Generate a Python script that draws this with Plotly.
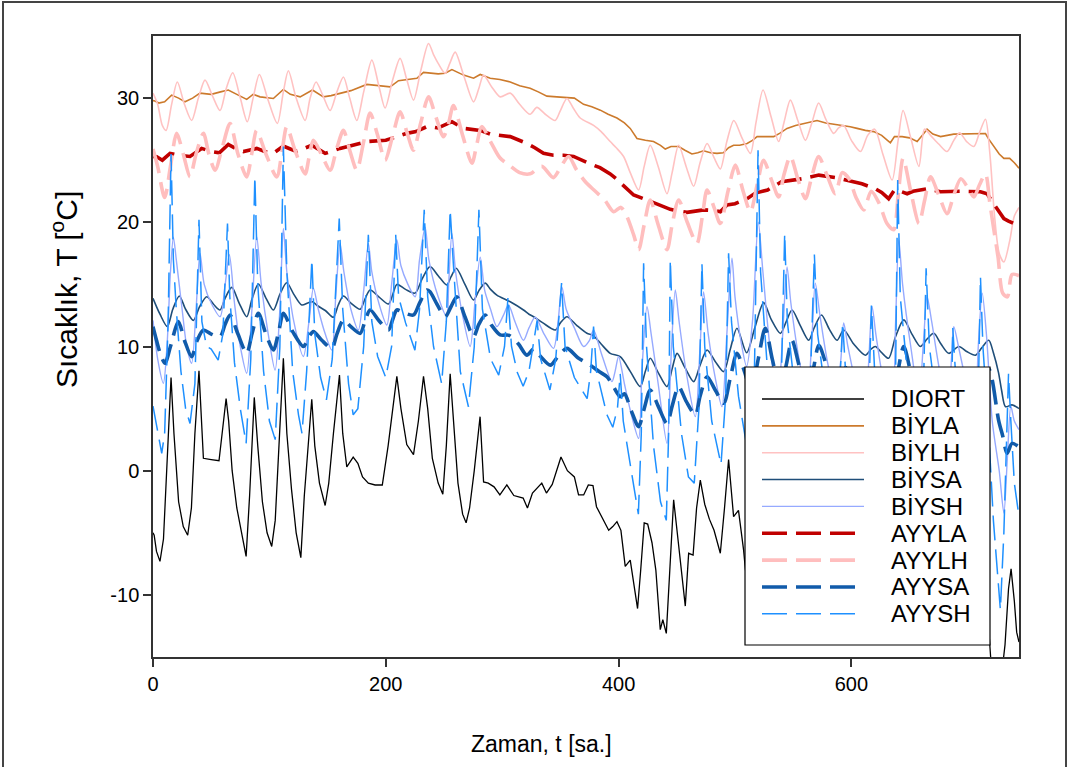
import plotly.graph_objects as go

# ---------------- data (t in hours, value in deg C) ----------------
DIORT = [(0,-5.0),(1,-5.2),(3,-6.5),(6,-7.3),(9,-5.5),(12,0),(15.5,7.5),(18,3),(22,-2.5),(26,-4.5),(29.8,-5.2),
         (33,-3),(36,3),(39.5,8.05),(42,3),(43.3,1.0),(50,0.9),(56.7,0.8),(60,3.5),(62.8,5.8),(65,4),(68,0),(72,-3),
         (76,-5),(80,-6.9),(83,-2),(87,5.9),(90,2),(94,-2.5),(98,-5),(102,-6.1),(105,-4),(108,2),(112,9.05),(115,3),
         (119,-1.5),(123,-5),(127,-7.0),(130,-2),(133,2),(136.4,5.75),(139,2),(143,-1),(147.9,-2.8),(151,-1),(155,3),
         (160.2,7.7),(163,3),(166.5,0.3),(172,1.1),(176,0.6),(180,-0.5),(185,-1.0),(190.8,-1.15),(197,-1.15),(202,2),
         (206,5),(209.5,7.6),(213,5),(218,2.1),(223.8,1.3),(228,4),(232.4,7.6),(236,5),(240,1),(245,-1),(249,-1.9),
         (252,2),(255.3,7.8),(258,4),(262,-1),(266,-3.5),(269,-4.2),(272,-3),(276,0),(281,4.35),(284,-0.9),(288,-1.0),
         (293,-1.3),(298,-1.95),(304,-1.15),(310,-2),(318,-2.2),(321.7,-3.0),(326,-1.8),(334,-1.0),(338,-1.8),
         (343,-1.1),(350.5,1.1),(356,0),(362,-0.5),(365.6,-1.95),(370,-1.95),(374,-1.15),(378,-1.2),(381,-2.9),
         (386,-3.8),(391.5,-4.8),(395,-4.5),(398.6,-4.1),(402,-4.8),(405.7,-7.7),(410,-7.2),(413,-9),(416.3,-11.1),
         (419,-8),(422,-4.2),(425,-4.3),(428.7,-5.8),(432,-8),(435.8,-12.8),(438,-12),(441,-13.1),(444,-8),
         (447.3,-2.35),(451,-5.5),(457.3,-10.9),(460.2,-6.65),(464,-6.8),(467,-3),(470.2,-0.75),(474,-2.7),(478,-3.9),
         (482,-4.8),(487.4,-6.65),(491,-3),(494.5,0.9),(498.8,-3.7),(503,-3.2),(507.4,-6.4),(509,-8.0),(514,-9),
         (519,-3),(525,-6),(531,-10),(538,-4),(543,-1),(549,-6),(556,-9),(562,-3),(567,-1),(573,-6),(580,-8),
         (586,-4),(591,-2),(597,-6),(604,-9),(610,-3),(615,-1),(621,-6),(628,-8),(634,-3),(639,0),(645,-5),(652,-9),
         (658,-4),(663,-1),(669,-6),(676,-9),(682,-5),(687,-2),(693,-7),(700,-10),(706,-6),(711,-4),(716,-10),
         (718,-13),(720,-15.5),(724,-17),(729,-16.5),(732,-14),(735,-9.5),(737.2,-7.9),(740,-10.5),(742,-13.0),
         (744,-13.8)]

BIYLA = [(0,29.8),(1.7,29.76),(5,29.6),(10,29.7),(16,30.24),(22,30.0),(27.5,29.7),(34,30.0),(40.4,30.4),(50,30.3),
         (58,30.5),(64.7,30.65),(72,30.3),(80.5,29.9),(86,30.3),(92,30.1),(103.4,29.97),(112,30.7),(118,30.3),
         (126.4,30.1),(137,30.65),(146.4,30.1),(153,30.2),(160.7,30.4),(170,30.6),(183.7,31.1),(194,31.0),
         (203.7,30.9),(210.9,31.4),(220,31.5),(226.7,31.6),(232.4,32.07),(238,32.04),(245,31.95),(251,32.0),
         (256.8,32.3),(266.8,31.85),(275.4,31.6),(281.1,31.9),(289.7,31.6),(298,31.5),(306.9,31.3),(315,31.0),
         (324,30.8),(331,30.5),(338.4,30.16),(347,30.1),(355.6,30.03),(362,30.0),(369.9,29.5),(377,29.3),
         (384.3,29.03),(391,28.7),(398.6,28.4),(405,28.0),(410,27.56),(415.8,26.75),(423,26.6),(430,26.5),(436,26.2),
         (440.1,25.9),(445,26.1),(451.6,26.1),(457,25.8),(463,25.5),(468,25.6),(473,25.76),(479,25.6),(484.5,25.55),
         (490,25.6),(494.5,26.0),(498.8,26.2),(504,26.2),(510.4,26.35),(515,26.6),(519,26.9),(526,26.9),(533.3,26.9),
         (539,27.2),(544.7,27.56),(552,27.8),(561.9,28.0),(570.5,28.2),(578,28.0),(585,27.9),(593.4,27.8),(599,27.7),
         (604.9,27.56),(612,27.4),(619.2,27.3),(626,27.0),(631,26.6),(633.5,26.4),(637,26.9),(643.6,26.9),(650,26.8),
         (656.5,26.5),(661,27.0),(665,27.5),(670,27.1),(676.6,26.9),(688,27.1),(700,27.1),(711,27.1),(715.2,27.15),
         (718,26.7),(722.4,26.1),(727,25.5),(731,25.15),(736,25.15),(740,24.8),(744,24.35)]

BIYLH = [(0,30.4),(4,29.5),(8,27.8),(11.2,27.4),(16,29.5),(20.9,31.3),(27,29.5),(33.2,28.2),(39,30.0),(44.7,31.45),
         (51,30.2),(57.6,29.0),(63,30.8),(68.5,32.04),(75,30.0),(81,28.1),(86,30.0),(91.4,31.9),(99,29.8),
         (106.8,27.96),(112,30.5),(116.3,32.2),(123,30),(130.7,28.2),(135,30),(140.1,31.3),(146,30.2),(152.2,29.0),
         (158,30.5),(163.6,31.7),(169,30),(175.1,28.2),(181,30.5),(188,33.06),(194,31),(199.4,29.2),(206,31.5),
         (212.3,33.2),(218,31.5),(223.8,29.84),(230,32.2),(236.7,34.4),(241,33.5),(245,32.8),(251,32.0),(255,32.8),
         (259.6,33.7),(267,31.8),(275.4,29.7),(280,30.8),(284,31.85),(291,30.9),(298.3,30.1),(306.9,30.4),(315,29.5),
         (324,28.7),(329.8,29.25),(337,28.7),(345.5,28.2),(350,29),(355.6,29.97),(361,29.2),(367,28.4),(378.5,27.8),
         (385,27.3),(392.8,26.5),(398,26),(404.3,25.3),(410,24),(417.2,22.6),(422,24.5),(427.2,26.2),(434,24.5),
         (441.6,22.3),(446,24),(451.6,26.2),(458,24.5),(464.5,22.9),(470,24.8),(476,26.35),(482,25.2),(487.4,24.3),
         (493,26.5),(499,28.2),(506,26.8),(513.3,25.55),(518,28),(524.1,30.65),(531,28.5),(537.5,26.5),(542,28),
         (547.6,29.84),(554,28.2),(560.5,26.6),(566,28),(571.9,29.6),(578,28.3),(584.8,27.16),(589,27.6),(593.4,27.8),
         (600,26.6),(607.8,25.7),(614,27),(620,27.5),(627,25.5),(635,23.4),(640,26.5),(644.4,29.0),(651,26.8),
         (658,24.5),(662.8,27.5),(668,27.0),(675,26.3),(682.2,25.7),(688,26.6),(693,27.2),(699,26.5),(705.2,26.1),
         (710,27.2),(715.2,28.3),(719,25.5),(723,20.5),(727,17.5),(731,16.8),(736,18.5),(740,20.5),(744,21.2)]

BIYSA = [(0,13.88),(6,12.6),(12.3,11.6),(17,13),(22.6,14.07),(28,13.0),(34.7,12.1),(40,13.2),(46.2,14.0),(52,13.4),
         (57.6,12.94),(62,13.9),(67.7,14.76),(74,13.5),(80.5,12.4),(85,13.8),(90.5,15.03),(97,13.9),(103.4,12.94),
         (109,14.2),(114.9,15.13),(121,14.2),(127.8,13.34),(133,13.5),(137,13.6),(141,13.3),(148,12.9),(155,12.35),
         (159,13.3),(163.6,14.07),(170,13.5),(178,13.0),(182,13.8),(186.5,14.55),(194,14.0),(202.3,13.42),(206,14.2),
         (209.5,15.0),(217,14.6),(225.2,14.3),(231,15.4),(238,16.43),(245,15.7),(252.4,14.95),(256,15.6),(260.5,16.3),
         (268,15),(275.4,13.74),(280,14.5),(285.4,15.1),(290,14.6),(295.4,14.14),(306.9,13.6),(318.3,12.94),
         (323,12.6),(327,12.4),(335,11.9),(345.6,11.33),(350,11.9),(355.6,12.4),(364,11.7),(372.8,11.06),(378,10.9),
         (385,10.2),(392.8,9.45),(401.4,9.18),(410,8.0),(418.6,6.77),(423,8),(427.2,9.05),(434,7.9),(441.6,6.77),
         (446,8.2),(450.2,9.45),(457,8.3),(464.5,7.17),(470,8.5),(476,9.72),(483,8.8),(490.3,7.98),(496,9.8),
         (501.7,11.47),(510,9.5),(517,11.5),(524.6,13.53),(531,12.2),(539,11.06),(544,12),(549,12.94),(556,11.7),
         (563.3,10.5),(568,11.5),(574.3,12.54),(581,11.4),(587.7,10.5),(593.4,11.33),(602,10.2),(612,9.3),(617,9.8),
         (620.6,10.0),(626,9.5),(632,9.05),(638,10.8),(645,12.14),(652,11),(659.3,10.0),(665,10.6),(670.8,11.06),
         (677,10.2),(683.7,9.45),(692.3,10.0),(699,9.6),(706.6,9.3),(712,9.9),(718,10.5),(722,9.5),(726.4,7.9),
         (729,6.5),(732.4,5.15),(738,5.3),(744,5.0)]

BIYSH = [(0,12.1),(4,9),(8.9,7.04),(12,10),(15,16),(17.5,18.8),(20,17),(25,13),(29,10),(33.2,8.65),(37,13),
         (40.4,17.5),(44,15),(50,13.5),(57.6,12.4),(62,15),(65.6,17.4),(70,13.5),(75,10),(80.5,7.85),(85,13),
         (89.1,18.84),(93,15),(99,11),(104.9,8.1),(109,13),(112,19.5),(115,16),(121,12),(129.2,9.2),(134,12),
         (137.8,14.7),(142,13),(148,11),(153.6,9.72),(157,14),(160.7,18.3),(164,16),(170,13),(176.4,11.33),(181,14.5),
         (185,18.3),(188,16),(194,13.5),(200.9,11.73),(205,15),(209.5,18.6),(213,16.5),(219,15),(225.2,14.0),(229,17),
         (233.8,19.6),(237,17),(245,14),(252.4,12.4),(254,15),(256.8,19.1),(260,16),(266,12.5),(272.5,10.0),(277,14),
         (281.1,17.2),(285,14.5),(290,13),(295.4,11.6),(301,12.5),(305.4,13.34),(311,12),(318.3,10.5),(323,11.5),
         (328.4,12.35),(336,11),(344.1,9.85),(348,12),(351.3,14.8),(355,13),(362,11.5),(369.9,10.0),(375,10.5),
         (378.5,11.33),(385,9.5),(394.3,7.17),(397,8),(400,9.2),(405,7),(411,4.5),(417.2,2.6),(420,8),(424.4,13.2),
         (428,11),(434,7),(441.6,2.2),(445,9),(448.7,14.55),(452,12),(458,8),(465.9,4.35),(470,10),(473,14.4),
         (477,11),(483,7.5),(488.8,5.16),(493,11),(497.4,17.1),(500,14),(505,10.5),(510,8.4),(515,12),(520,20),
         (524,16),(530,10),(537,6),(541,11),(544.7,16.4),(548,13.5),(555,9),(562,6),(566,10.5),(569,15.1),(573,12.5),
         (580,8.5),(587,6),(591,9),(593.4,11.9),(597,10),(604,7),(612,5),(615,9),(617.8,13.2),(621,11),(628,7),
         (635,5),(638,12),(640.7,18.6),(644,15),(651,10),(658,6),(662,10.5),(665,14.0),(669,12),(676,8),(683,5.5),
         (686,9),(688,11.6),(692,10),(699,7),(706,5),(709,10),(712.4,14.3),(716,11),(721,4),(727,0),(731,-3.4),
         (734,1),(737,5.2),(740,4),(744,3.3)]

AYYLA = [(0,25.3),(3.2,25.28),(8,25.0),(14.6,25.55),(22,25.4),(31.8,25.3),(41.8,25.95),(50,25.7),(57,25.6),
         (64.7,26.27),(70,26.0),(77.6,25.7),(89.1,25.95),(96,25.7),(103.4,25.55),(112,26.14),(118,25.9),(123.5,25.7),
         (136.4,26.2),(142,25.9),(147.9,25.55),(160.7,25.95),(170,26.2),(183.7,26.5),(200,26.6),(210,26.9),
         (218,27.16),(226,27.3),(235.2,27.7),(238,27.7),(245,27.6),(256.8,28.1),(266.8,27.56),(281.1,27.4),
         (289.7,27.1),(306.9,26.9),(315,26.6),(321.2,26.35),(328,26),(335.5,25.55),(344,25.4),(352.7,25.4),
         (361.3,25.3),(368,25.0),(375.7,24.7),(384,24.4),(392.8,23.9),(398,23.5),(402.9,23.1),(408,22.6),
         (412.9,22.2),(421.5,21.9),(433,21.5),(444.4,21.04),(452,20.9),(458.8,20.8),(466,20.9),(473,21.0),(482,20.95),
         (487.4,20.85),(493.1,21.4),(500,21.5),(510.4,21.9),(517.5,22.35),(528,22.6),(540,23.26),(557.5,23.5),
         (572,23.8),(586.3,23.6),(600,23.3),(609,23.1),(620.6,22.7),(626,22.4),(632,21.9),(637,22.6),(642,22.5),
         (647.9,22.3),(653,22.5),(659.3,22.6),(665,22.7),(676.6,22.46),(693.7,22.5),(710.9,22.46),(716.6,22.3),
         (720,21.8),(723.8,21.25),(727,20.8),(731,20.3),(735,20.1),(739.6,19.9),(742,19.9),(744,19.6)]

AYYLH = [(0,25.9),(4,24.5),(10,22.0),(15,24.5),(20.3,27.16),(26,25.5),(31.8,23.66),(37,25.5),(43.3,27.16),(48,25.5),
         (53.3,24.2),(60,26.2),(66.2,27.96),(73,25.5),(80.5,23.66),(85,25.6),(89,27.4),(97,25.5),(106.3,23.66),
         (111,25.8),(114.9,27.7),(122,25.8),(130.7,23.9),(134,25.2),(137.8,26.6),(145,25.4),(152.2,24.2),(158,26),
         (163.6,27.4),(169,25.8),(175.1,24.2),(181,26.5),(186.5,28.8),(193,27),(199.4,25.0),(206,27),(212.3,28.9),
         (218,27.3),(223.8,25.8),(230,28),(236.7,30.1),(243,28.5),(249.5,26.9),(254,28),(258.1,29.4),(266,27),
         (274,24.75),(278,26.2),(282.5,27.7),(290,26.5),(298,25.2),(306,24.6),(315,24.0),(324,23.9),(334,24.5),
         (344,23.6),(350,24.4),(357,25.3),(364,24.2),(372,23.2),(380,22.5),(388,21.8),(395.7,20.85),(402,21.2),
         (407,20.5),(412.9,19.0),(417.2,17.8),(422,19.8),(427.2,21.8),(434,19.8),(441.6,17.8),(446,19.8),(451.6,21.8),
         (459,20),(467.3,18.3),(472,20.5),(476,22.6),(482,21.2),(487.4,19.9),(494,22.5),(500.3,24.6),(507,22.5),
         (513.3,20.85),(519,23),(524.6,25.0),(531,23.5),(537.5,22.05),(542,23.8),(547.6,25.3),(554,23.5),(560.5,21.9),
         (566,23.7),(571.9,25.3),(579,23.8),(586.3,22.3),(592,24),(598,23.5),(604,22),(610.6,21.0),(617,22.5),
         (624,21.5),(630.6,19.9),(636.4,19.4),(640,22),(644.4,25.15),(651,22.5),(658,19.9),(663,21.8),(668,23.66),
         (675,22.2),(682.2,20.7),(688,22.2),(694,23.5),(700,22.8),(705.2,22.05),(710,23.0),(715.2,23.9),(719,21.5),
         (722.4,19.4),(726,17.2),(730,14.3),(734,14.0),(738,15.8),(744,15.7)]

AYYSA = [(0,11.6),(3,10.5),(6,9.5),(10.3,8.65),(15,10),(21.8,12.0),(27,10.5),(33.2,9.18),(38,10.5),(43.3,11.33),
         (50,11),(57.6,10.8),(62,11.8),(66.2,12.54),(73,11),(80.5,9.45),(85,11),(90.5,12.68),(97,11),(103.4,9.72),
         (108,11.2),(112,12.68),(120,11.2),(129.2,10.0),(134,10.8),(137.8,11.2),(145,10.5),(153.6,9.85),(158,11),
         (163.6,12.14),(170,11.6),(178,11.06),(182,12),(186.5,12.94),(194,12.1),(202.3,11.33),(206,12.2),(209.5,12.94),
         (216,12.7),(223.8,12.54),(229,13.5),(235.2,14.55),(238,14.4),(244,13.4),(251,12.4),(256,13.2),(261,14.0),
         (268,12.4),(275.4,10.8),(280,11.8),(285.4,12.54),(291,11.7),(298.3,10.93),(306,10.9),(314,10.2),(321.2,9.3),
         (327,9.8),(333,9.2),(341.3,8.5),(348,9.2),(355.6,9.85),(365,9.1),(375.7,8.5),(383,8.0),(390,7.57),(396,6.7),
         (401.4,5.96),(405,6.2),(411,4.8),(417.2,3.55),(422,5),(427.2,6.5),(434,5.2),(441.6,3.8),(446,5.2),
         (451.6,6.77),(458,5.6),(465.9,4.5),(470,6),(476,7.57),(483,6.5),(490.3,5.43),(496,7.5),(501.7,9.45),
         (507,8.3),(514,6.5),(520,9),(526,11.47),(532,9),(539,6.5),(544,8.5),(549,10.5),(555,8.5),(563,6),(568,8.5),
         (572,10.1),(580,8),(588,5.5),(592,7),(595,8.3),(603,6.5),(612,5),(617,7),(620,8.2),(627,6),(634,4.5),(640,8),
         (645,10.0),(652,7.5),(659,5.5),(665,7),(670,8.3),(677,6.5),(684,5),(689,6.5),(692,7.7),(699,6),(706,5),
         (712,7),(718,8.2),(721,7.3),(726.4,4.1),(730,2.8),(733.8,1.4),(738,2.2),(744,1.9)]

AYYSH = [(0,5.2),(4,3.0),(7.5,1.4),(10,3),(13,12),(15.5,25.5),(17.5,17),(20,13),(24,8),(28,5),(31.8,3.8),(36,7),
         (39.5,20.2),(42,12),(46,10),(50,9.8),(56,8.9),(60,11),(64,19.9),(66,14),(70,8.7),(75,5),(80,2.2),(84,9),
         (87.5,23.7),(90,15),(95,8),(100,4),(105,2.5),(109,10),(112,26.1),(115,16),(120,8),(125,4.5),(128,3.0),
         (132,8),(136.5,17),(139,11),(144,7.5),(149,5.7),(154,9),(160,20.3),(163,13),(168,7),(172,4.5),(176,5),
         (181,10),(185,19),(188,12),(193,9.2),(200,7.5),(205,10),(208.5,19),(211,14),(217,11.9),(225,9.7),(229,13),
         (233,21.0),(236,14),(241,10),(248,7.0),(252,12),(255.3,21.0),(258,16.7),(264,8),(271,5.15),(276,10),
         (280,21.0),(283,13),(290,9),(297,7.7),(302,10),(305,14),(308,10),(313,7.9),(318,6.8),(323,8),(330,12.1),
         (333,9),(341,6.5),(346,9),(351,15.1),(354,10),(362,7.5),(373,5.8),(376,8),(378.5,11.6),(381,8),(390,4.5),
         (395,3.5),(399,5),(401.4,7.8),(404,4),(410,0.5),(417,-3.5),(419.5,3),(421.5,16.7),(424,10),(430,2),
         (436,-2.5),(441,-4),(443,3),(444.4,17.0),(447,10),(454,3),(460,-0.5),(465,-1),(469,5),(471.6,16.7),(474,10),
         (480,4),(488,0.5),(492,6),(494.5,17.5),(497,12),(503,6),(510,2),(516,4),(519.8,25.8),(522,16),(528,8),
         (535,3),(540,8),(542.7,19.1),(545,12),(552,6),(560,3),(565,8),(568.2,17.4),(571,11),(578,6),(586,4),(590,7),
         (592.5,11.9),(595,8),(604,4),(612,2),(615,6),(617.2,13.3),(620,8),(628,3),(635,1),(638,8),(639.8,23.4),
         (642,14),(650,6),(658,2),(662,7),(664.2,16.3),(667,10),(675,4),(683,1),(686,5),(687.1,11.5),(690,7),(698,2),
         (706,0),(709,6),(710.9,15.6),(713,10),(718,3),(722,-4),(728,-11.2),(731,-5),(733,2),(735,7.8),(737,4),
         (740,-1),(744,-3.7)]

SERIES_NAMES = ["DIORT", "BİYLA", "BİYLH", "BİYSA", "BİYSH", "AYYLA", "AYYLH", "AYYSA", "AYYSH"]
SERIES_DATA = [DIORT, BIYLA, BIYLH, BIYSA, BIYSH, AYYLA, AYYLH, AYYSA, AYYSH]

X_TICKS = [0, 200, 400, 600]
Y_TICKS = [-10, 0, 10, 20, 30]
Y_TICK_TEXT = ["-10", "0", "10", "20", "30"]
X_TITLE = "Zaman, t [sa.]"
Y_TITLE = "Sıcaklık, T [<sup>o</sup>C]"

# ---------------- styles ----------------
COLORS = ["#000000", "#CC7A2C", "#FFC2C2", "#1F4E79", "#96AAFF",
          "#C00000", "#FFBEBE", "#115BAA", "#1E90FF"]
WIDTHS = [1.3, 1.6, 1.6, 1.6, 1.4, 3.6, 3.6, 3.6, 1.5]
DASHES = ["solid"] * 5 + ["25px,9px"] * 4
SHAPES = ["linear", "linear", "spline", "spline", "spline", "linear", "spline", "spline", "linear"]

W, H = 1068, 767
L, R, T, B = 153, 49, 36, 110
PW, PH = W - L - R, H - T - B


def px(x):
    return (x - L) / PW


def py(y):
    return (H - B - y) / PH


FONT = "Liberation Sans, Arial, sans-serif"

fig = go.Figure()
for name, data, c, w, d, s in zip(SERIES_NAMES, SERIES_DATA, COLORS, WIDTHS, DASHES, SHAPES):
    line = dict(color=c, width=w, dash=d, shape=s)
    if s == "spline":
        line["smoothing"] = 0.8
    fig.add_trace(go.Scatter(
        x=[p[0] for p in data], y=[p[1] for p in data], name=name, mode="lines",
        line=line, showlegend=False))

shapes = []
annotations = []
# outer frame of the picture
shapes.append(dict(type="rect", xref="paper", yref="paper", x0=px(3), x1=px(1066), y0=py(780), y1=py(2),
                   line=dict(color="#444444", width=2), fillcolor="rgba(0,0,0,0)", layer="below"))
# legend box drawn over the data
LEG_X0, LEG_X1, LEG_Y0, LEG_Y1 = 745, 990, 367, 645
shapes.append(dict(type="rect", xref="paper", yref="paper", x0=px(LEG_X0), x1=px(LEG_X1), y0=py(LEG_Y1),
                   y1=py(LEG_Y0), line=dict(color="#000000", width=1.2), fillcolor="white", layer="above"))
ROW0, ROWSTEP = 399, 26.85
for i, (name, c, w, d) in enumerate(zip(SERIES_NAMES, COLORS, WIDTHS, DASHES)):
    yy = ROW0 + i * ROWSTEP
    shapes.append(dict(type="line", xref="paper", yref="paper", x0=px(762), x1=px(864), y0=py(yy), y1=py(yy),
                       line=dict(color=c, width=w, dash=d), layer="above"))
    annotations.append(dict(xref="paper", yref="paper", x=px(889), y=py(yy), text=name, showarrow=False,
                            xanchor="left", yanchor="middle", font=dict(family=FONT, size=24, color="black")))

annotations.append(dict(xref="paper", yref="paper", x=px(541), y=py(744), text=X_TITLE, showarrow=False,
                        xanchor="center", yanchor="middle", font=dict(family=FONT, size=23, color="black")))
annotations.append(dict(xref="paper", yref="paper", x=px(64), y=py(290), text=Y_TITLE, showarrow=False,
                        textangle=-90, xanchor="center", yanchor="middle",
                        font=dict(family=FONT, size=30, color="black")))

axis_common = dict(showgrid=False, zeroline=False, ticks="outside", ticklen=8, tickwidth=1.5,
                   tickcolor="#333333", showline=True, linecolor="#333333", linewidth=1.5, mirror=True,
                   tickfont=dict(family=FONT, size=20, color="black"))

fig.update_layout(
    width=W, height=H, margin=dict(l=L, r=R, t=T, b=B, autoexpand=False),
    paper_bgcolor="white", plot_bgcolor="white", showlegend=False,
    xaxis=dict(range=[0, 744], tickvals=X_TICKS, **axis_common),
    yaxis=dict(range=[-15, 35], tickvals=Y_TICKS, ticktext=Y_TICK_TEXT, **axis_common),
    shapes=shapes, annotations=annotations,
)

fig.write_html("out.html")
